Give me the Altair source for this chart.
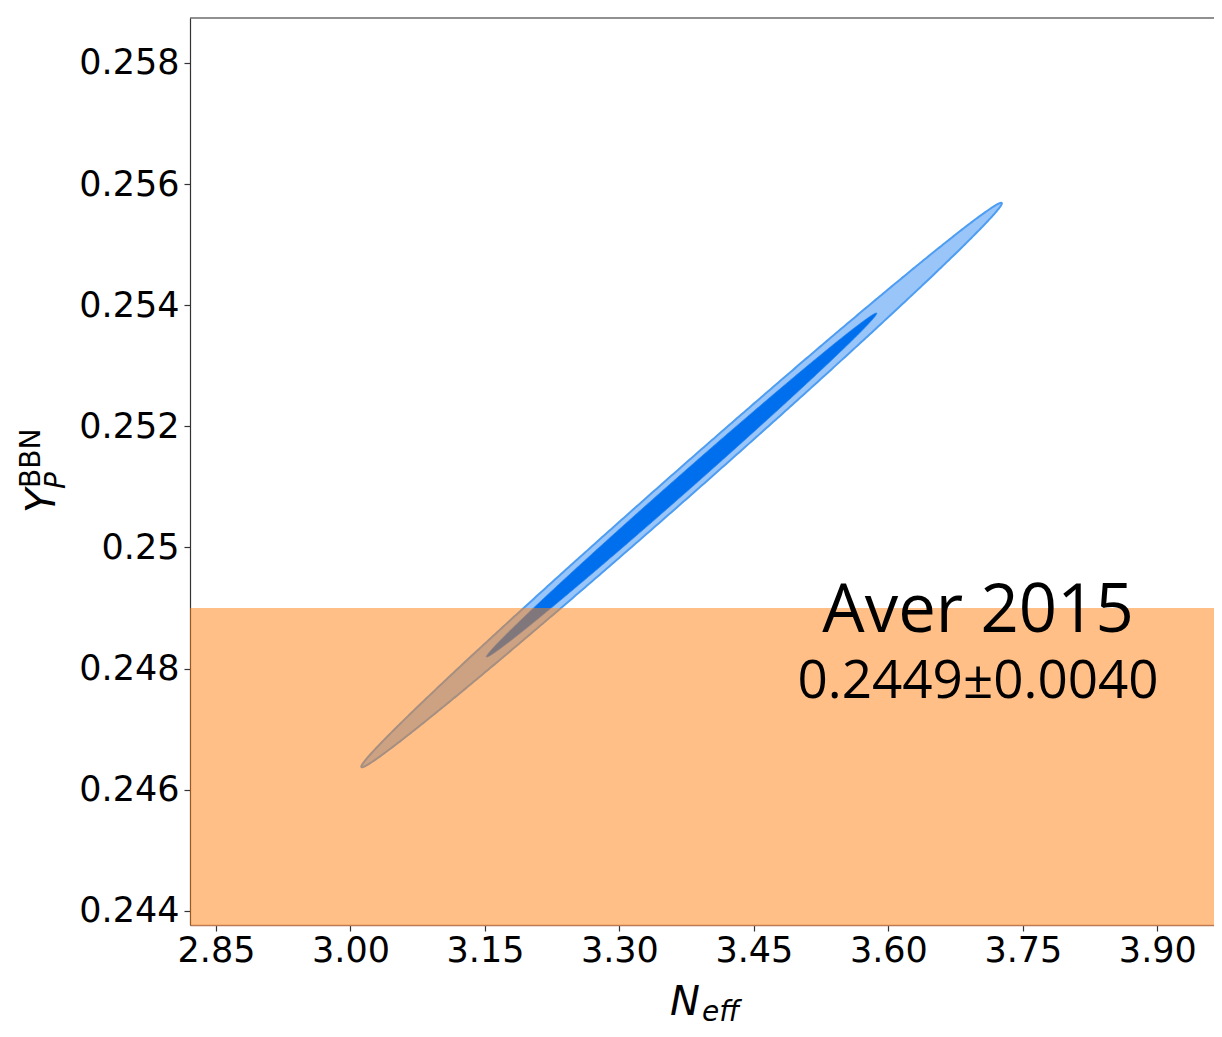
import numpy as np
import pandas as pd
import altair as alt

# ---- data ----
neff_mean = 3.3693
yp_mean = 0.25103
neff_sigma = 0.1437
yp_sigma = 0.001875
rho = 0.9979
level_names = ["95%", "68%"]
chi2_levels = [6.1801, 2.2958]

band_top = 0.2490
band_bottom = 0.2409
band_label = "Aver 2015"
band_value = "0.2449±0.0040"
label_x = [3.70, 3.70]
label_y = [0.248595, 0.247521]
label_size = [67, 53]

x_ticks = [2.85, 3.00, 3.15, 3.30, 3.45, 3.60, 3.75, 3.90]
y_ticks = [0.244, 0.246, 0.248, 0.250, 0.252, 0.254, 0.256, 0.258]
x_domain = [2.821, 3.9632]
y_domain = [0.243764, 0.258743]

W, H = 1024, 907

# ---- contour table from the Gaussian posterior ----
rows = []
t = np.linspace(0, np.pi, 401)
for name, k in zip(level_names, chi2_levels):
    u = np.sqrt(k) * np.cos(t)
    half = yp_sigma * np.sqrt(np.clip((1 - rho**2) * (k - u**2), 0, None))
    xs = neff_mean + neff_sigma * u
    yc = yp_mean + rho * yp_sigma * u
    for a, lo, hi in zip(xs, yc - half, yc + half):
        rows.append({"level": name, "neff": a, "lo": lo, "hi": hi})
contours = pd.DataFrame(rows)

xscale = alt.Scale(domain=x_domain, nice=False, zero=False)
yscale = alt.Scale(domain=y_domain, nice=False, zero=False)

xaxis = alt.Axis(values=x_ticks, format=".2f", title=None, grid=False,
                 labelFont="DejaVu Sans", labelFontSize=35, labelColor="black",
                 tickColor="#333", tickSize=6, tickWidth=1.2,
                 domainColor="#b97a55", domainWidth=1.6, labelPadding=2)
yaxis = alt.Axis(values=y_ticks, format=".3~f", title=None, grid=False,
                 labelFont="DejaVu Sans", labelFontSize=35, labelColor="black",
                 tickColor="#333", tickSize=6, tickWidth=1.2,
                 domainColor="#333", domainWidth=1.2, labelPadding=5)

outer = alt.Chart(contours[contours.level == "95%"]).mark_area(
    fill="#99c5f8", stroke="#4d9df2", strokeWidth=2
).encode(
    x=alt.X("neff:Q", scale=xscale, axis=xaxis),
    y=alt.Y("lo:Q", scale=yscale, axis=yaxis),
    y2="hi:Q",
)
inner = alt.Chart(contours[contours.level == "68%"]).mark_area(
    fill="#006fed", stroke="#2a85f0", strokeWidth=0.8
).encode(x="neff:Q", y="lo:Q", y2="hi:Q")

band_df = pd.DataFrame({"top": [band_top], "bottom": [band_bottom]})
band = alt.Chart(band_df).mark_rect(color="#ff7f0e", opacity=0.5, clip=True).encode(
    y="top:Q", y2="bottom:Q"
)

lab_df = pd.DataFrame({"x": label_x, "y": label_y, "t": [band_label, band_value], "s": label_size})
labels = alt.Chart(lab_df).mark_text(
    font="Open Sans", color="black", align="center", baseline="alphabetic"
).encode(x="x:Q", y="y:Q", text="t:N", size=alt.Size("s:Q", scale=None, legend=None))

one = pd.DataFrame({"a": [0]})
top_rule = alt.Chart(one).mark_rule(color="#222", strokeWidth=1.2).encode(
    x=alt.value(0), x2=alt.value(W), y=alt.value(0)
)

def txt(s, x, y, size, italic=True, angle=0):
    kw = dict(text=s, font="DejaVu Sans", fontSize=size, color="black",
              align="left", baseline="alphabetic")
    if italic:
        kw["fontStyle"] = "italic"
    if angle:
        kw["angle"] = angle
    return alt.Chart(one).mark_text(**kw).encode(x=alt.value(x), y=alt.value(y))

ytitle = txt("Y", -135, 495, 40, True, 270) + txt("P", -125, 471, 28, True, 270) + \
    txt("BBN", -150, 470, 28, False, 270)
xtitle = txt("N", 480, 997, 40) + txt("eff", 512, 1003, 28)

chart = alt.layer(outer, inner, band, labels, top_rule, ytitle, xtitle).properties(
    width=W, height=H,
    padding={"left": 182, "top": 10, "right": 0, "bottom": 103},
    autosize=alt.AutoSizeParams(type="none"),
    background="white",
).configure_view(stroke=None)

chart.save("out.html", embed_options={"renderer": "svg", "actions": False})
